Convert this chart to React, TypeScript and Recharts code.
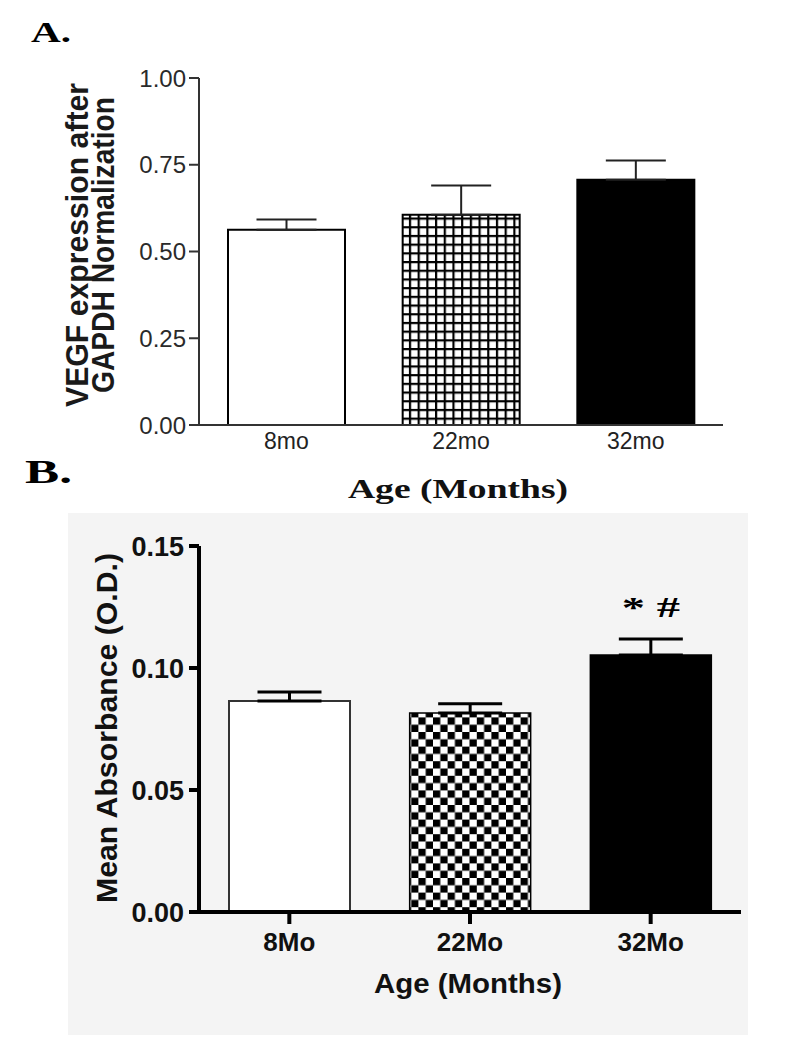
import React from 'react';
import { BarChart, Bar, XAxis, YAxis, ErrorBar, Cell, LabelList, Label } from 'recharts';

// Panel A - VEGF expression (western blot, GAPDH normalised)
const agesA = ['8mo', '22mo', '32mo'];
const vegfMeans = [0.563, 0.606, 0.707];
const vegfErr = [0.029, 0.084, 0.055];
const ticksA = [0, 0.25, 0.5, 0.75, 1.0];

// Panel B - mean absorbance (ELISA)
const agesB = ['8Mo', '22Mo', '32Mo'];
const absMeans = [0.0865, 0.0816, 0.1053];
const absErr = [0.0037, 0.0037, 0.0066];
const sigB = ['', '', '* #'];
const ticksB = [0, 0.05, 0.1, 0.15];

const fillsA = ['#ffffff', 'url(#gridA)', '#000000'];
const fillsB = ['#ffffff', 'url(#checkB)', '#000000'];
const strokesB = ['#333333', '#000000', '#000000'];

const rowsA = agesA.map((age, i) => ({ age, mean: vegfMeans[i], err: [0, vegfErr[i]] }));
const rowsB = agesB.map((age, i) => ({
  age,
  mean: absMeans[i],
  err: [0, absErr[i]],
  sig: sigB[i],
}));

const SANS = "Arial, 'Liberation Sans', Helvetica, sans-serif";
const SERIF = "'Times New Roman', 'Liberation Serif', serif";

// two-line rotated label, glyphs a bit wider than normal like the scanned figure
const VegfAxisLabel = () => (
  <g fontFamily={SANS} fontWeight="bold" fontSize={28} fill="#1a1a1a">
    <text
      transform="translate(77,245) scale(1.15,1) rotate(-90)"
      textAnchor="middle"
      dominantBaseline="central"
      textLength={324}
      lengthAdjust="spacingAndGlyphs"
    >
      VEGF expression after
    </text>
    <text
      transform="translate(103,245) scale(1.15,1) rotate(-90)"
      textAnchor="middle"
      dominantBaseline="central"
      textLength={296}
      lengthAdjust="spacingAndGlyphs"
    >
      GAPDH Normalization
    </text>
  </g>
);

const AgeLabelA = () => (
  <text
    x={458}
    y={498}
    textAnchor="middle"
    fontFamily={SERIF}
    fontWeight="bold"
    fontSize={27}
    fill="#111"
    textLength={220}
    lengthAdjust="spacingAndGlyphs"
  >
    Age (Months)
  </text>
);

const AbsAxisLabel = () => (
  <text
    transform="translate(38,215) rotate(-90)"
    textAnchor="middle"
    dominantBaseline="central"
    fontFamily={SANS}
    fontWeight="bold"
    fontSize={30}
    fill="#111"
    textLength={350}
    lengthAdjust="spacingAndGlyphs"
  >
    Mean Absorbance (O.D.)
  </text>
);

const AgeLabelB = () => (
  <text
    x={400}
    y={480}
    textAnchor="middle"
    fontFamily={SANS}
    fontWeight="bold"
    fontSize={28}
    fill="#111"
    textLength={188}
    lengthAdjust="spacingAndGlyphs"
  >
    Age (Months)
  </text>
);

const renderSig = (props: any) => {
  const { x, y, width, value } = props;
  if (!value) return null;
  return (
    <text
      x={x + width / 2}
      y={y - 38}
      textAnchor="middle"
      fontFamily={SERIF}
      fontWeight="bold"
      fontSize={30}
      fill="#000"
      textLength={58}
      lengthAdjust="spacingAndGlyphs"
    >
      {value}
    </text>
  );
};

export default function App() {
  return (
    <div style={{ position: 'absolute', left: 0, top: 0, width: 800, height: 1045, background: '#fff' }}>
      <svg width={800} height={1045} style={{ position: 'absolute', left: 0, top: 0 }}>
        <defs>
          <pattern id="gridA" width={8.7} height={8.7} patternUnits="userSpaceOnUse">
            <rect width={8.7} height={8.7} fill="#fff" />
            <rect width={8.7} height={2.2} fill="#000" />
            <rect width={2.2} height={8.7} fill="#000" />
          </pattern>
          <pattern id="checkB" width={14.6} height={14.6} patternUnits="userSpaceOnUse">
            <rect width={14.6} height={14.6} fill="#fff" />
            <rect width={7.3} height={7.3} fill="#000" />
            <rect x={7.3} y={7.3} width={7.3} height={7.3} fill="#000" />
          </pattern>
        </defs>
        <text x={31} y={42} fontFamily={SERIF} fontWeight="bold" fontSize={30} textLength={40} lengthAdjust="spacingAndGlyphs">
          A.
        </text>
        <text x={25} y={483} fontFamily={SERIF} fontWeight="bold" fontSize={33} textLength={47} lengthAdjust="spacingAndGlyphs">
          B.
        </text>
      </svg>

      <div style={{ position: 'absolute', left: 0, top: 0 }}>
        <BarChart width={800} height={512} data={rowsA} margin={{ top: 78, right: 77, bottom: 47, left: 119 }}>
          <XAxis
            dataKey="age"
            axisLine={{ stroke: '#333', strokeWidth: 2 }}
            tickLine={false}
            tickSize={6}
            tickMargin={2}
            height={40}
            tick={{ fill: '#222', fontSize: 23, fontFamily: SANS }}
          >
            <Label content={<AgeLabelA />} />
          </XAxis>
          <YAxis
            width={80}
            domain={[0, 1]}
            ticks={ticksA}
            tickFormatter={(v: number) => v.toFixed(2)}
            axisLine={{ stroke: '#333', strokeWidth: 2 }}
            tickLine={{ stroke: '#333', strokeWidth: 2 }}
            tickSize={10}
            tickMargin={3}
            tick={{ fill: '#2a2a2a', fontSize: 24, fontFamily: SANS }}
          >
            <Label content={<VegfAxisLabel />} />
          </YAxis>
          <Bar dataKey="mean" barSize={117} stroke="#000" strokeWidth={2} isAnimationActive={false}>
            {rowsA.map((r, i) => (
              <Cell key={r.age} fill={fillsA[i]} />
            ))}
            <ErrorBar dataKey="err" width={30} stroke="#222" strokeWidth={2} direction="y" isAnimationActive={false} />
          </Bar>
        </BarChart>
      </div>

      <div style={{ position: 'absolute', left: 68, top: 513, width: 680, height: 522, background: '#f4f4f4' }}>
        <BarChart width={680} height={522} data={rowsB} margin={{ top: 33, right: 7, bottom: 63, left: 41 }}>
          <XAxis
            dataKey="age"
            axisLine={{ stroke: '#000', strokeWidth: 4 }}
            tickLine={{ stroke: '#000', strokeWidth: 4 }}
            tickSize={12}
            tickMargin={9}
            height={60}
            tick={{ fill: '#111', fontSize: 26, fontWeight: 'bold', fontFamily: SANS }}
          >
            <Label content={<AgeLabelB />} />
          </XAxis>
          <YAxis
            width={90}
            domain={[0, 0.15]}
            ticks={ticksB}
            tickFormatter={(v: number) => v.toFixed(2)}
            axisLine={{ stroke: '#000', strokeWidth: 4 }}
            tickLine={{ stroke: '#000', strokeWidth: 4 }}
            tickSize={10}
            tickMargin={5}
            tick={{ fill: '#111', fontSize: 27, fontWeight: 'bold', fontFamily: SANS }}
          >
            <Label content={<AbsAxisLabel />} />
          </YAxis>
          <Bar dataKey="mean" barSize={121} isAnimationActive={false}>
            {rowsB.map((r, i) => (
              <Cell key={r.age} fill={fillsB[i]} stroke={strokesB[i]} strokeWidth={i === 0 ? 2 : 1.5} />
            ))}
            <ErrorBar dataKey="err" width={32} stroke="#000" strokeWidth={3} direction="y" isAnimationActive={false} />
            <LabelList dataKey="sig" content={renderSig} />
          </Bar>
        </BarChart>
      </div>
    </div>
  );
}
